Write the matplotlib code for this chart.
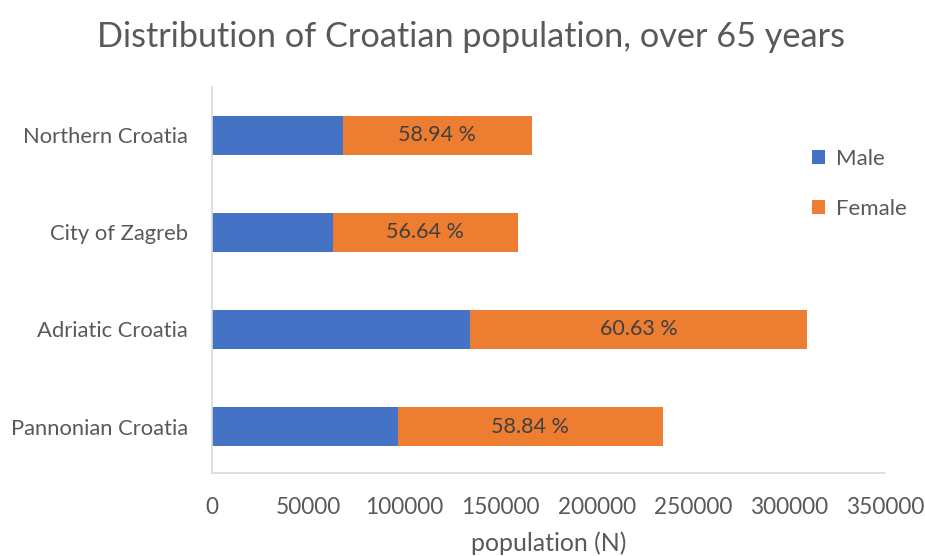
import numpy as np
import matplotlib
matplotlib.use('Agg')
import matplotlib.pyplot as plt

# data
regions = ['Pannonian Croatia', 'Adriatic Croatia', 'City of Zagreb', 'Northern Croatia']
male = [96600, 134200, 62800, 68000]
female = [137900, 175200, 96200, 98300]
female_share = ['58.84 %', '60.63 %', '56.64 %', '58.94 %']
xticks = [0, 50000, 100000, 150000, 200000, 250000, 300000, 350000]

BLUE = '#4472C4'
ORANGE = '#ED7D31'
GREY = '#595959'

plt.rcParams['font.family'] = ['Lato', 'DejaVu Sans']

fig = plt.figure(figsize=(9.25, 5.56), dpi=100)
ax = fig.add_axes([0.229, 0.149, 0.728, 0.695])

y = np.arange(len(regions))
ax.barh(y, male, height=0.4, color=BLUE, label='Male')
ax.barh(y, female, left=male, height=0.4, color=ORANGE, label='Female')

for i in range(len(regions)):
    ax.text(male[i] + female[i] / 2, y[i], female_share[i], ha='center', va='center',
            fontsize=15.5, color='#404040')

ax.set_xlim(0, 350000)
ax.set_ylim(-0.48, 3.5)
ax.set_xticks(xticks)
ax.set_xticklabels([str(t) for t in xticks])
ax.set_yticks(y)
ax.set_yticklabels(regions)
ax.tick_params(axis='both', length=0, colors=GREY)
ax.tick_params(axis='x', pad=17, labelsize=16.3)
ax.tick_params(axis='y', pad=17, labelsize=15.8)

for s in ['top', 'right']:
    ax.spines[s].set_visible(False)
ax.spines['left'].set_color('#D9D9D9')
ax.spines['bottom'].set_color('#D9D9D9')
ax.spines['left'].set_linewidth(1.2)
ax.spines['bottom'].set_linewidth(1.2)

ax.set_xlabel('population (N)', fontsize=17.9, color=GREY, labelpad=10)
fig.suptitle('Distribution of Croatian population, over 65 years', fontsize=24.7,
             color=GREY, x=0.509, y=0.962)

ax.legend(loc='upper left', bbox_to_anchor=(0.861, 0.89), frameon=False,
          fontsize=16, labelcolor=GREY, handlelength=0.6, handleheight=0.6,
          handletextpad=0.5, labelspacing=1.35)

fig.savefig('out.png', dpi=100)
